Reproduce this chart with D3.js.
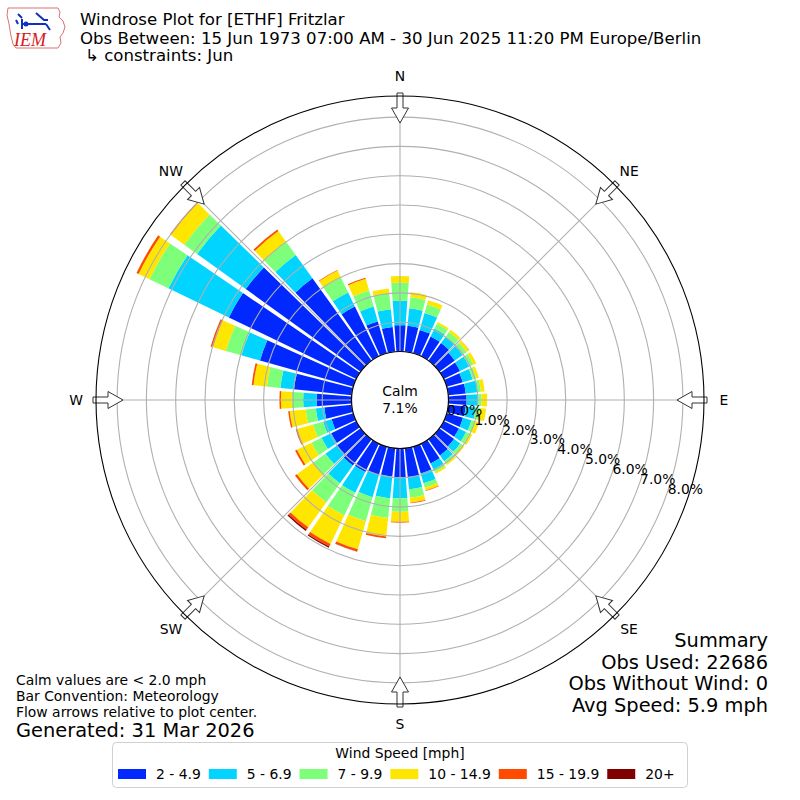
<!DOCTYPE html>
<html><head><meta charset="utf-8">
<script src="https://cdn.jsdelivr.net/npm/d3@7"></script>
<style>
body{margin:0;background:#fff}
svg{display:block;font-family:"DejaVu Sans",sans-serif}
</style>
</head><body>
<svg id="chart" width="800" height="800"></svg>
<script>
// ---------------- data ----------------
const directions = [0,10,20,30,40,50,60,70,80,90,100,110,120,130,140,150,160,170,
                    180,190,200,210,220,230,240,250,260,270,280,290,300,310,320,330,340,350];
const speedBins = ["2 - 4.9","5 - 6.9","7 - 9.9","10 - 14.9","15 - 19.9","20+"];
const binColors = ["#0028ff","#00d4ff","#7dff7a","#ffe600","#ff4a00","#800000"];
// percent of observations per direction for each speed bin
const bin2to5   = [0.90,0.89,0.83,0.75,0.74,0.65,0.62,0.57,0.60,0.62,0.60,0.58,0.58,0.62,0.68,0.75,0.95,1.00,
                   0.98,0.97,1.01,1.07,1.10,1.00,0.95,0.77,0.94,1.19,1.98,3.31,4.83,4.83,3.46,1.89,1.13,0.85];
const bin5to7   = [0.83,0.60,0.60,0.30,0.28,0.33,0.35,0.35,0.40,0.40,0.34,0.30,0.27,0.26,0.24,0.23,0.35,0.41,
                   0.72,0.75,0.78,0.79,0.75,0.48,0.37,0.30,0.29,0.46,0.47,0.66,2.29,2.05,0.98,0.53,0.53,0.61];
const bin7to10  = [0.62,0.38,0.30,0.18,0.18,0.17,0.16,0.13,0.12,0.11,0.15,0.14,0.13,0.10,0.11,0.10,0.15,0.29,
                   0.46,0.67,0.85,0.86,0.80,0.52,0.38,0.36,0.35,0.39,0.46,0.55,0.72,0.54,0.55,0.57,0.57,0.54];
const bin10to15 = [0.23,0.17,0.15,0.07,0.10,0.10,0.11,0.09,0.13,0.19,0.21,0.13,0.10,0.07,0.05,0.06,0.10,0.17,
                   0.34,0.64,1.00,1.08,1.05,0.68,0.55,0.56,0.55,0.37,0.46,0.46,0.41,0.56,0.46,0.26,0.41,0.17];
const bin15to20 = [0.00,0.00,0.00,0.00,0.00,0.01,0.00,0.00,0.00,0.00,0.00,0.00,0.00,0.00,0.00,0.00,0.02,0.02,
                   0.03,0.06,0.08,0.10,0.10,0.08,0.07,0.05,0.05,0.05,0.06,0.08,0.08,0.04,0.06,0.02,0.04,0.00];
const bin20plus = [0,0,0,0,0,0,0,0,0,0,0,0,0,0,0,0,0,0,
                   0,0,0.01,0.04,0.05,0,0,0,0,0,0,0,0,0,0,0,0,0];
const calmPct = 7.1;
const ringTicks = [0,1,2,3,4,5,6,7,8];
const compassLabels = ["N","NE","E","SE","S","SW","W","NW"];
const compassAngles = [0,45,90,135,180,225,270,315];
const titleLines = ["Windrose Plot for [ETHF] Fritzlar",
  "Obs Between: 15 Jun 1973 07:00 AM - 30 Jun 2025 11:20 PM Europe/Berlin",
  "\u21b3 constraints: Jun"];
const noteLines = ["Calm values are < 2.0 mph","Bar Convention: Meteorology","Flow arrows relative to plot center."];
const generatedText = "Generated: 31 Mar 2026";
const summaryLines = ["Summary","Obs Used: 22686","Obs Without Wind: 0","Avg Speed: 5.9 mph"];

// ---------------- layout ----------------
const svg = d3.select("#chart");
const cx = 400, cy = 400;
const rOuter = 304, rCalm = 48.5;
const rMaxPct = 8.72;
const r = d3.scaleLinear().domain([0, rMaxPct]).range([rCalm, rOuter]);
const barHalf = 4.25 * Math.PI / 180;
const toRad = d => d * Math.PI / 180;

const g = svg.append("g").attr("transform", `translate(${cx},${cy})`);

// bars
const series = [bin2to5, bin5to7, bin7to10, bin10to15, bin15to20, bin20plus];
const rows = directions.map((d, i) => {
  const o = {dir: d};
  speedBins.forEach((b, j) => o[b] = series[j][i]);
  return o;
});
const stack = d3.stack().keys(speedBins)(rows);
const arc = d3.arc();
stack.forEach((layer, j) => {
  g.append("g").selectAll("path").data(layer).join("path")
    .attr("d", s => arc({innerRadius: r(s[0]), outerRadius: r(s[1]),
        startAngle: toRad(s.data.dir) - barHalf, endAngle: toRad(s.data.dir) + barHalf}))
    .attr("fill", binColors[j])
    .attr("display", s => (s[1] - s[0]) > 0 ? null : "none");
});

// grid rings and spokes (drawn over bars)
g.append("g").selectAll("circle").data(ringTicks).join("circle")
  .attr("r", t => r(t)).attr("fill", "none").attr("stroke", "#b0b0b0").attr("stroke-width", 1.1);
g.append("g").selectAll("line").data(compassAngles).join("line")
  .attr("x1", 0).attr("y1", 0)
  .attr("x2", a => rOuter * Math.sin(toRad(a)))
  .attr("y2", a => -rOuter * Math.cos(toRad(a)))
  .attr("stroke", "#b0b0b0").attr("stroke-width", 1.1);

// calm circle
g.append("circle").attr("r", rCalm).attr("fill", "#fff").attr("stroke", "#000").attr("stroke-width", 1.2);
g.append("text").attr("x", 0).attr("y", -4).attr("text-anchor", "middle")
  .attr("font-size", 13.9).text("Calm");
g.append("text").attr("x", 0).attr("y", 12.5).attr("text-anchor", "middle")
  .attr("font-size", 13.9).text(calmPct.toFixed(1) + "%");

// ring labels
const labAng = toRad(19.7);
g.append("g").selectAll("text").data(ringTicks).join("text")
  .attr("x", t => r(t) * Math.cos(labAng) + 1.3)
  .attr("y", t => r(t) * Math.sin(labAng) - 1.5)
  .attr("font-size", 13.9).attr("fill", "#000")
  .text(t => t.toFixed(1) + "%");

// arrows
const arrowPath = "M-3,-307 L3,-307 L3,-292 L8.5,-292 L0,-277 L-8.5,-292 L-3,-292 Z";
g.append("g").selectAll("path").data(compassAngles).join("path")
  .attr("d", arrowPath).attr("transform", a => `rotate(${a})`)
  .attr("fill", "#fff").attr("stroke", "#333").attr("stroke-width", 1);

// outer circle
g.append("circle").attr("r", rOuter).attr("fill", "none").attr("stroke", "#000").attr("stroke-width", 1.1);

// compass labels
g.append("g").selectAll("text").data(compassAngles).join("text")
  .attr("x", a => 324 * Math.sin(toRad(a)))
  .attr("y", a => -324 * Math.cos(toRad(a)))
  .attr("text-anchor", "middle").attr("dominant-baseline", "central")
  .attr("font-size", 13.9)
  .text((a, i) => compassLabels[i]);

// titles
svg.append("g").selectAll("text").data(titleLines).join("text")
  .attr("x", (d, i) => i === 2 ? 85 : 80)
  .attr("y", (d, i) => [25.3, 43.5, 61.3][i])
  .attr("font-size", 16.6).text(d => d);

// notes
svg.append("g").selectAll("text").data(noteLines).join("text")
  .attr("x", 16).attr("y", (d, i) => 685 + i * 16)
  .attr("font-size", 13.9).text(d => d);
svg.append("text").attr("x", 16).attr("y", 737).attr("font-size", 19.4).text(generatedText);

// summary
svg.append("g").selectAll("text").data(summaryLines).join("text")
  .attr("x", 768).attr("y", (d, i) => 647 + i * 21.7)
  .attr("text-anchor", "end").attr("font-size", 19.4).text(d => d);

// legend
const leg = svg.append("g");
leg.append("rect").attr("x", 112.5).attr("y", 742.5).attr("width", 575).attr("height", 45)
  .attr("rx", 4).attr("fill", "#fff").attr("stroke", "#d0d0d0").attr("stroke-width", 1);
leg.append("text").attr("x", 400).attr("y", 758).attr("text-anchor", "middle")
  .attr("font-size", 13.9).text("Wind Speed [mph]");
let xc = 118;
speedBins.forEach((b, j) => {
  leg.append("rect").attr("x", xc).attr("y", 769).attr("width", 28).attr("height", 10).attr("fill", binColors[j]);
  const t = leg.append("text").attr("x", xc + 38).attr("y", 779).attr("font-size", 13.9).text(b);
  xc = xc + 38 + t.node().getComputedTextLength() + 8;
});

// logo
const logo = svg.append("g");
logo.append("path")
  .attr("d", "M8,8 L58,8 L60,12 L59,17 L63,21 L65,27 L63,33 L60,37 L61,43 L58,48 L16,48 L13,44 L11,36 L9,24 L7,15 Z")
  .attr("fill", "none").attr("stroke", "#e07070").attr("stroke-width", 1);
logo.append("text").attr("x", 14).attr("y", 46).attr("font-family", "Liberation Serif, serif")
  .attr("font-style", "italic").attr("font-size", 18).attr("fill", "#d42020").text("IEM");
logo.append("path").attr("d", "M22,24 L46,24 M22,19 L22,29 M36,13 L44,20 L48,20 M46,24 L50,30 M18,14 L22,18 M16,20 L18,24")
  .attr("stroke", "#1030c0").attr("stroke-width", 2).attr("fill", "none");
logo.append("circle").attr("cx", 26).attr("cy", 24).attr("r", 2.5).attr("fill", "#1030c0");
</script>
</body></html>
